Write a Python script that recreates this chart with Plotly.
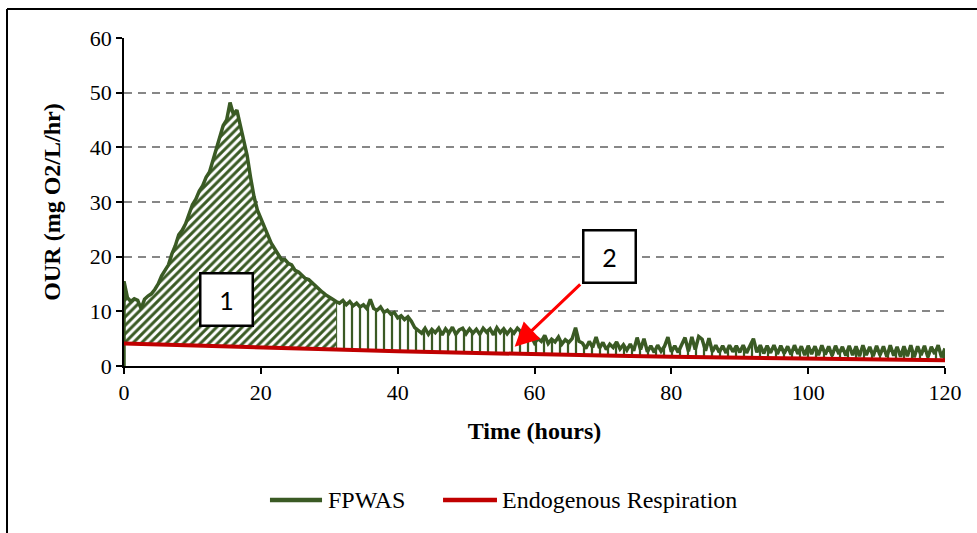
import plotly.graph_objects as go

# Oxygen uptake rate of FPWAS, sampled every half hour from t = 0 h to t = 120 h
SAMPLE_STEP_H = 0.5
our_fpwas = [
    # 0 - 31 h : growth peak
    15.5, 12.5, 11.8, 12.3, 12.0, 10.5, 12.2, 12.8, 13.2, 14.0,
    15.0, 16.5, 17.5, 18.5, 20.5, 22.0, 24.0, 24.8, 26.0, 28.0,
    29.5, 30.5, 32.0, 33.0, 34.5, 35.5, 37.5, 40.0, 42.0, 44.0,
    45.0, 48.2, 46.0, 46.8, 44.0, 41.5, 38.5, 34.5, 31.0, 28.5,
    27.0, 25.8, 24.0, 22.5, 21.5, 20.5, 19.5, 19.5, 18.8, 18.5,
    17.5, 17.2, 16.5, 16.0, 15.8, 15.2, 14.5, 14.0, 13.5, 13.0,
    12.5, 12.2, 11.8,
    # 31.5 - 43 h
    11.5, 12.0, 11.2, 11.8, 11.0, 11.5, 10.8, 11.2, 10.5, 12.2,
    10.5, 10.2, 10.8, 9.8, 10.2, 9.5, 9.8, 8.8, 9.2, 8.5,
    9.0, 8.2, 7.0, 6.5,
    # 43.5 - 58 h
    6.0, 6.9, 5.8, 6.7, 6.1, 6.9, 5.7, 6.8, 6.0, 7.1,
    5.8, 6.6, 6.9, 5.9, 6.8, 6.0, 6.7, 5.8, 6.9, 6.2,
    6.8, 5.7, 7.0, 6.1, 6.8, 5.9, 6.7, 6.0, 6.9, 6.3,
    # 58.5 - 65.5 h
    5.2, 4.6, 5.5, 4.2, 5.0, 4.5, 5.6, 4.1, 4.9, 4.4,
    5.3, 4.0, 4.8, 4.3, 5.0,
    # 66 - 66.5 h
    7.0, 4.5,
    # 67 - 74 h
    4.2, 3.2, 4.5, 3.4, 5.3, 3.3, 4.3, 3.0, 4.0, 3.4,
    4.4, 3.1, 3.9, 2.9, 4.0,
    # 74.5 - 120 h
    2.8, 5.2, 3.0, 5.0, 2.6, 3.7, 2.5, 3.8, 2.7, 3.6,
    5.3, 2.6, 3.7, 2.5, 3.8, 5.2, 2.7, 5.3, 3.0, 5.4,
    4.9, 2.8, 5.1, 2.6, 3.8, 2.5, 3.7, 2.4, 3.8, 2.6,
    3.7, 2.5, 3.8, 2.4, 3.7, 5.0, 2.5, 3.8, 2.3, 3.7,
    2.4, 3.8, 2.2, 3.7, 2.3, 3.6, 2.1, 3.8, 2.2, 3.6,
    2.0, 3.7, 2.2, 3.6, 2.0, 3.8, 2.1, 3.6, 1.9, 3.7,
    2.2, 3.5, 1.9, 3.7, 2.0, 3.6, 1.8, 3.8, 2.0, 3.5,
    1.8, 3.7, 2.0, 3.6, 1.7, 3.8, 1.9, 3.5, 1.7, 3.6,
    1.8, 3.8, 1.6, 3.6, 2.0, 3.7, 1.6, 3.5, 2.2, 3.8,
    1.6, 3.2,
]

# Endogenous respiration baseline
endo_hours = [0, 10, 20, 31, 40, 50, 60, 70, 80, 90, 100, 110, 120]
endo_our = [4.1, 3.7, 3.35, 3.0, 2.7, 2.4, 2.15, 1.9, 1.7, 1.5, 1.35, 1.2, 1.05]

# Hour at which the shaded area changes from diagonal hatching to vertical lines
SPLIT_HOUR = 31

x_ticks = [0, 20, 40, 60, 80, 100, 120]
y_ticks = [0, 10, 20, 30, 40, 50, 60]
series_names = ["FPWAS", "Endogenous Respiration"]

GREEN = "#3A5A24"
RED = "#C00000"
ARROW_RED = "#FF0000"
SERIF = "Liberation Serif"

# the logger record starts from zero at t = 0
hours = [0.0] + [SAMPLE_STEP_H * i for i in range(len(our_fpwas))]
our = [0.0] + our_fpwas

seg_a = [(h, v) for h, v in zip(hours, our) if h <= SPLIT_HOUR]
seg_b = [(h, v) for h, v in zip(hours, our) if h >= SPLIT_HOUR]
endo_a = [(h, v) for h, v in zip(endo_hours, endo_our) if h <= SPLIT_HOUR]
endo_b = [(h, v) for h, v in zip(endo_hours, endo_our) if h >= SPLIT_HOUR]

fig = go.Figure()

# area 1: diagonal hatching between the OUR curve and the baseline
fig.add_trace(go.Scatter(
    x=[p[0] for p in endo_a], y=[p[1] for p in endo_a],
    mode="lines", line=dict(width=0), showlegend=False, hoverinfo="skip"))
fig.add_trace(go.Scatter(
    x=[p[0] for p in seg_a], y=[p[1] for p in seg_a],
    mode="lines", line=dict(width=0), fill="tonexty",
    fillcolor="rgba(255,255,255,0)",
    fillpattern=dict(shape="/", size=6, solidity=0.5, fgopacity=1,
                     fgcolor=GREEN, bgcolor="white"),
    showlegend=False, hoverinfo="skip"))

# area 2: vertical line pattern
fig.add_trace(go.Scatter(
    x=[p[0] for p in endo_b], y=[p[1] for p in endo_b],
    mode="lines", line=dict(width=0), showlegend=False, hoverinfo="skip"))
fig.add_trace(go.Scatter(
    x=[p[0] for p in seg_b], y=[p[1] for p in seg_b],
    mode="lines", line=dict(width=0), fill="tonexty",
    fillcolor="rgba(255,255,255,0)",
    fillpattern=dict(shape="|", size=8, solidity=0.28, fgopacity=1,
                     fgcolor=GREEN, bgcolor="white"),
    showlegend=False, hoverinfo="skip"))

# the two series
fig.add_trace(go.Scatter(
    x=hours, y=our, mode="lines", name=series_names[0],
    line=dict(color=GREEN, width=3.5), showlegend=False))
fig.add_trace(go.Scatter(
    x=endo_hours, y=endo_our, mode="lines", name=series_names[1],
    line=dict(color=RED, width=4), showlegend=False))

box_font = dict(family="Lato", size=25, color="black")
annotations = [
    dict(x=15.05, y=12.1, xref="x", yref="y", text="1", showarrow=False,
         font=box_font, width=50, height=50, borderpad=0,
         bordercolor="black", borderwidth=2.5, bgcolor="white"),
    dict(x=57.1, y=3.5, xref="x", yref="y", ax=66.9, ay=15.2,
         axref="x", ayref="y", text="", showarrow=True,
         arrowcolor=ARROW_RED, arrowwidth=3, arrowhead=2, arrowsize=1.6,
         standoff=0, startstandoff=0),
    dict(x=71.0, y=20.1, xref="x", yref="y", text="2", showarrow=False,
         font=box_font, width=50, height=50, borderpad=0,
         bordercolor="black", borderwidth=2.5, bgcolor="white"),
]

# outer chart frame (left and top edges)
frame_left, frame_top = -0.1425, 1.0884
shapes = [
    dict(type="line", xref="paper", yref="paper",
         x0=frame_left, x1=frame_left, y0=frame_top, y1=-0.7,
         line=dict(color="black", width=2)),
    dict(type="line", xref="paper", yref="paper",
         x0=frame_left, x1=1.1, y0=frame_top, y1=frame_top,
         line=dict(color="black", width=2)),
]

# legend below the x-axis title: line sample followed by the series name
legend_y = -0.4085
legend_items = [
    (series_names[0], GREEN, 0.1778, 0.2412, 0.2455),
    (series_names[1], RED, 0.3886, 0.4543, 0.4575),
]
for name, color, x0, x1, xt in legend_items:
    shapes.append(dict(type="line", xref="paper", yref="paper",
                       x0=x0, x1=x1, y0=legend_y, y1=legend_y,
                       line=dict(color=color, width=4.5)))
    annotations.append(dict(x=xt, y=legend_y, xref="paper", yref="paper",
                            text=name, showarrow=False,
                            xanchor="left", yanchor="middle",
                            font=dict(family=SERIF, size=24, color="black")))

fig.update_layout(
    width=977, height=533, autosize=False,
    margin=dict(l=124, r=32, t=38, b=167),
    paper_bgcolor="white", plot_bgcolor="white",
    font=dict(family=SERIF, size=22, color="black"),
    showlegend=False,
    annotations=annotations,
    shapes=shapes,
)

fig.update_xaxes(
    range=[0, 120], tickvals=x_ticks, ticktext=[str(v) for v in x_ticks],
    showline=True, linecolor="black", linewidth=1.5,
    ticks="outside", ticklen=6, tickcolor="black", tickwidth=1.5,
    showgrid=False, zeroline=False,
    tickfont=dict(family=SERIF, size=22, color="black"),
    title=dict(text="<b>Time (hours)</b>", standoff=18,
               font=dict(family=SERIF, size=24, color="black")),
)
fig.update_yaxes(
    range=[0, 60], tickvals=y_ticks, ticktext=[str(v) for v in y_ticks],
    showline=True, linecolor="black", linewidth=1.5,
    ticks="outside", ticklen=6, tickcolor="black", tickwidth=1.5,
    showgrid=True, gridcolor="#878787", gridwidth=1.5, griddash="8px,6px",
    zeroline=False,
    tickfont=dict(family=SERIF, size=22, color="black"),
    title=dict(text="<b>OUR (mg O2/L/hr)</b>", standoff=22,
               font=dict(family=SERIF, size=24, color="black")),
)

fig.write_html("out.html")
